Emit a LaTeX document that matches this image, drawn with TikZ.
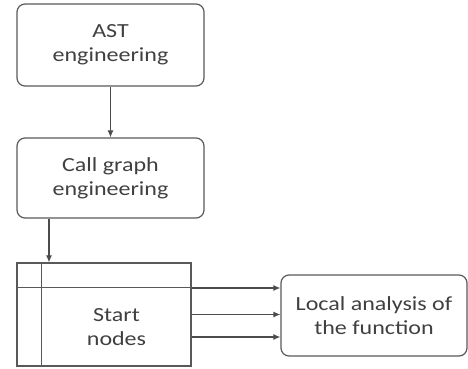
\documentclass[tikz,border=0pt]{standalone}
\usepackage{fontspec}
\setmainfont{Carlito}[FakeStretch=1.2]
\usetikzlibrary{arrows.meta}

\begin{document}
\begin{tikzpicture}[x=1pt, y=-1pt,
    box/.style={draw=black!65, line width=1.2pt, rounded corners=8pt, minimum width=187pt, minimum height=82pt, align=center, inner sep=0pt, font=\fontsize{20}{24}\selectfont, text=black!75},
    link/.style={-{Latex[length=7pt, width=6pt]}, draw=black!70, line width=1.1pt}]
    \useasboundingbox (0, 0) rectangle (468, 369);

    %Nodes
    \node[box] at (110.5, 45) (ast) {AST\\engineering};
    \node[box, minimum height=80pt] at (110.5, 178) (cg) {Call graph\\engineering};
    \node[box, rounded corners=0pt, minimum width=174pt, minimum height=103pt] at (104, 314.5) (st) {};
    \node[align=center, font=\fontsize{20}{24}\selectfont, text=black!75] at (116.5, 327) (stlabel) {Start\\nodes};
    \node[box, minimum width=186pt, minimum height=81pt] at (374, 315.5) (la) {Local analysis of\\the function};

    %Inner lines of the start box
    \draw[draw=black!65, line width=1.2pt] ([xshift=25pt]st.north west) -- ([xshift=25pt]st.south west);
    \draw[draw=black!65, line width=1.2pt] ([yshift=-25pt]st.north west) -- ([yshift=-25pt]st.north east);

    %Lines
    \draw[link] (ast) -- (cg);
    \draw[link] ([xshift=-61.5pt]cg.south) -- ([xshift=-61.5pt]cg.south |- st.north);
    \foreach \s in {26.5, 0, -22.5}
        \draw[link] ([yshift=\s pt]st.east) -- ([yshift=\s pt]st.east -| la.west);

\end{tikzpicture}
\end{document}
